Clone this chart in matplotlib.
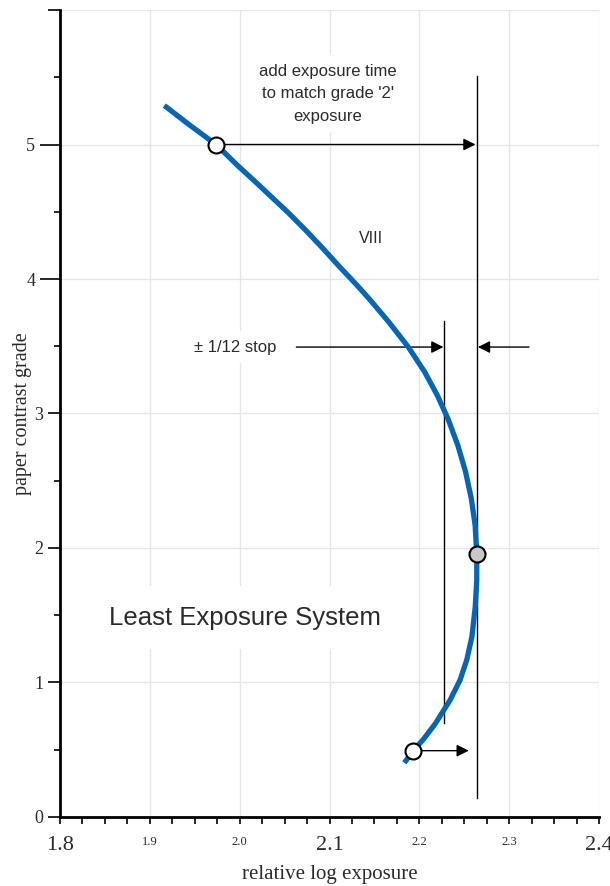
import matplotlib
matplotlib.use("Agg")
import matplotlib.pyplot as plt
from matplotlib.ticker import MultipleLocator
from matplotlib.transforms import ScaledTranslation

# curve (relative log exposure vs paper grade)
curve_x = [1.9161, 1.9440, 1.9737, 1.9985, 2.0171, 2.0357, 2.0541, 2.0727,
           2.0913, 2.1098, 2.1290, 2.1440, 2.1660, 2.1877, 2.2060, 2.2200,
           2.2318, 2.2428, 2.2515, 2.2578, 2.2621, 2.2639, 2.2639, 2.2622,
           2.2585, 2.2527, 2.2453, 2.2342, 2.2180, 2.2048, 2.1933, 2.1833]
curve_y = [5.290, 5.146, 5.000, 4.839, 4.725, 4.608, 4.493, 4.368,
           4.237, 4.101, 3.965, 3.854, 3.680, 3.494, 3.308, 3.135,
           2.962, 2.764, 2.565, 2.368, 2.169, 1.954, 1.761, 1.562,
           1.340, 1.166, 1.018, 0.869, 0.696, 0.580, 0.493, 0.403]

open_pts_x = [1.9737, 2.1933]
open_pts_y = [5.0, 0.493]
grey_x, grey_y = 2.2639, 1.954

# reference lines
vline_x = [2.2642, 2.2278]
vline_lo = [0.14, 0.70]
vline_hi = [5.51, 3.69]

x_ticks = [1.8, 1.9, 2.0, 2.1, 2.2, 2.3, 2.4]
x_labels = ["1.8", "1.9", "2.0", "2.1", "2.2", "2.3", "2.4"]
x_sizes = [16, 9, 9, 16, 9, 9, 16]
y_ticks = [0, 1, 2, 3, 4, 5, 6]
y_labels = ["0", "1", "2", "3", "4", "5", ""]

serif = "Liberation Serif"
sans = "Liberation Sans"
blue = "#0566b4"
txt = "#2b2b2b"

fig = plt.figure(figsize=(6.1, 8.86), dpi=100)
ax = fig.add_axes([0.0984, 0.0779, 0.8836, 0.9108])
ax.set_xlim(1.8, 2.4)
ax.set_ylim(0, 6)

for s in ["top", "right"]:
    ax.spines[s].set_visible(False)
for s in ["left", "bottom"]:
    ax.spines[s].set_linewidth(2)

ax.set_xticks(x_ticks)
ax.set_xticklabels(x_labels, fontfamily=serif)
for lab, sz in zip(ax.get_xticklabels(), x_sizes):
    lab.set_fontsize(sz)
ax.set_yticks(y_ticks)
ax.set_yticklabels(y_labels, fontfamily=serif, fontsize=13)
ax.xaxis.set_minor_locator(MultipleLocator(0.025))
ax.yaxis.set_minor_locator(MultipleLocator(0.5))
ax.tick_params(axis="x", which="major", length=5, width=1.2, pad=9)
ax.tick_params(axis="x", which="minor", length=5, width=1.2)
ax.tick_params(axis="y", which="major", length=8.6, width=1.2, pad=3.5)
ax.tick_params(axis="y", which="minor", length=4.5, width=1.2)
for lab in ax.get_xticklabels() + ax.get_yticklabels():
    lab.set_color(txt)

# ticks 4 and 5 are drawn longer in the original
shift = ScaledTranslation(-8 / 100, 0, fig.dpi_scale_trans)
for i in (4, 5):
    t = ax.yaxis.get_major_ticks()[i]
    t.tick1line.set_markersize(14.4)
    t.label1.set_transform(t.label1.get_transform() + shift)

ax.grid(True, which="major", color="#e6e6e6", linewidth=1)
ax.set_axisbelow(True)

ax.set_xlabel("relative log exposure", fontfamily=serif, fontsize=15, color=txt, labelpad=7)
ax.set_ylabel("paper contrast grade", fontfamily=serif, fontsize=14.5, color=txt)
ax.yaxis.set_label_coords(-0.052, 0.5)

for x, lo, hi in zip(vline_x, vline_lo, vline_hi):
    ax.plot([x, x], [lo, hi], color="black", linewidth=1, zorder=3)

arrow = dict(arrowstyle="-|>", color="black", lw=1, mutation_scale=18,
             shrinkA=0, shrinkB=0)
ax.annotate("", xy=(2.2625, 5.0), xytext=(1.9737, 5.0), arrowprops=arrow, zorder=3)
ax.annotate("", xy=(2.2268, 3.494), xytext=(2.063, 3.494), arrowprops=arrow, zorder=3)
ax.annotate("", xy=(2.2652, 3.494), xytext=(2.322, 3.494), arrowprops=arrow, zorder=3)
ax.annotate("", xy=(2.255, 0.493), xytext=(2.1933, 0.493), arrowprops=arrow, zorder=3)

ax.plot(curve_x, curve_y, color=blue, linewidth=3.8, solid_capstyle="butt",
        solid_joinstyle="round", zorder=4)
ax.plot(open_pts_x, open_pts_y, "o", ms=11.5, mfc="white", mec="black", mew=1.5, zorder=5)
ax.plot([grey_x], [grey_y], "o", ms=11.5, mfc="#c8c8c8", mec="black", mew=1.5, zorder=5)

box = dict(facecolor="white", edgecolor="none", pad=6)
ax.text(2.098, 5.378, "add exposure time\nto match grade '2'\nexposure", ha="center",
        va="center", fontfamily=sans, fontsize=12, color=txt, linespacing=1.62,
        bbox=box, zorder=2)
ax.text(2.146, 4.30, "VIII", ha="center", va="center", fontfamily=sans,
        fontsize=11.5, color=txt, zorder=2)
ax.text(1.995, 3.494, "\u00b1 1/12 stop", ha="center", va="center", fontfamily=sans,
        fontsize=12, color=txt, bbox=box, zorder=2)
ax.text(2.006, 1.48, "Least Exposure System", ha="center", va="center",
        fontfamily=sans, fontsize=18.5, color=txt,
        bbox=dict(facecolor="white", edgecolor="none", pad=14), zorder=2)

fig.savefig("out.png", dpi=100)
